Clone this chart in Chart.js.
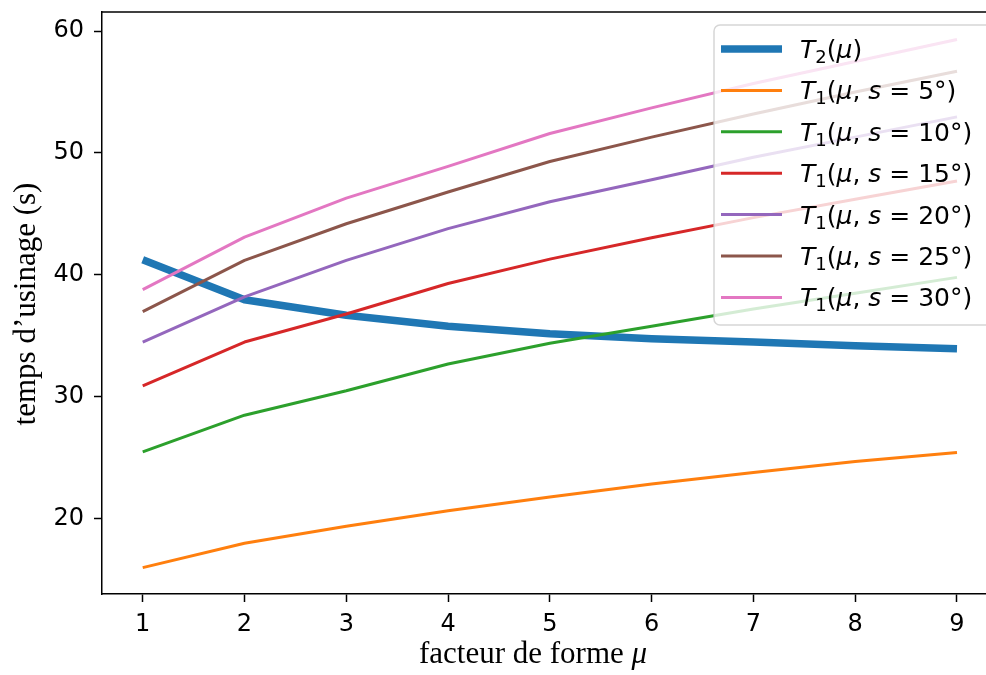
<!DOCTYPE html>
<html>
<head>
<meta charset="utf-8">
<script src="https://cdn.jsdelivr.net/npm/chart.js@4.4.1/dist/chart.umd.min.js"></script>
<style>
  html, body { margin: 0; padding: 0; background: #fff; }
  canvas { display: block; }
</style>
</head>
<body>
<canvas id="chart" width="986" height="675"></canvas>
<script>
// facteur de forme
const mu = [1, 2, 3, 4, 5, 6, 7, 8, 9];

// T2(mu)
const t2 = [41.25, 37.96, 36.7, 35.8, 35.17, 34.76, 34.5, 34.2, 33.94];

// T1(mu, s) for each angle s
const angles = [5, 10, 15, 20, 25, 30];
const t1s5 = [16.0, 18.0, 19.4, 20.66, 21.8, 22.85, 23.8, 24.7, 25.45];
const t1s10 = [25.5, 28.5, 30.5, 32.7, 34.4, 35.8, 37.2, 38.5, 39.8];
const t1s15 = [30.9, 34.5, 36.8, 39.3, 41.3, 43.05, 44.7, 46.2, 47.7];
const t1s20 = [34.5, 38.2, 41.2, 43.8, 46.0, 47.8, 49.65, 51.3, 52.96];
const t1s25 = [37.0, 41.2, 44.2, 46.8, 49.3, 51.3, 53.2, 55.0, 56.7];
const t1s30 = [38.8, 43.1, 46.3, 48.9, 51.6, 53.7, 55.7, 57.5, 59.3];

const xTicks = [1, 2, 3, 4, 5, 6, 7, 8, 9];
const yTicks = [20, 30, 40, 50, 60];

const xTitle = "facteur de forme ";
const xTitleSymbol = "\u03bc";
const yTitle = "temps d\u2019usinage (s)";

const colors = ["#1f77b4", "#ff7f0e", "#2ca02c", "#d62728", "#9467bd", "#8c564b", "#e377c2"];
const t1Series = [t1s5, t1s10, t1s15, t1s20, t1s25, t1s30];

function toPoints(values) {
  return values.map((v, i) => ({ x: mu[i], y: v }));
}

const datasets = [{
  data: toPoints(t2),
  borderColor: colors[0],
  borderWidth: 7.5,
  order: 10
}];
t1Series.forEach((vals, i) => {
  datasets.push({
    data: toPoints(vals),
    borderColor: colors[i + 1],
    borderWidth: 3,
    order: 6 - i
  });
});

// legend entries, written as small pieces of "math" text
const legendItems = [{
  color: colors[0], width: 7.5,
  parts: [{ t: "T", it: true }, { t: "2", sub: true }, { t: "(" }, { t: "\u03bc", it: true }, { t: ")" }]
}];
angles.forEach((s, i) => {
  legendItems.push({
    color: colors[i + 1], width: 3,
    parts: [{ t: "T", it: true }, { t: "1", sub: true }, { t: "(" }, { t: "\u03bc", it: true },
            { t: ", " }, { t: "s", it: true }, { t: " = " }, { t: s + "\u00b0)" }]
  });
});

function drawMath(ctx, x, y, parts) {
  parts.forEach(p => {
    ctx.font = (p.it ? "italic " : "") + (p.sub ? "18px" : "25px") + " 'DejaVu Sans'";
    ctx.fillText(p.t, x, y + (p.sub ? 5 : 0));
    x += ctx.measureText(p.t).width;
  });
}

const decor = {
  id: "decor",
  afterDraw(chart) {
    const ctx = chart.ctx;
    const a = chart.chartArea;
    ctx.save();

    // top spine
    ctx.strokeStyle = "#000";
    ctx.lineWidth = 1.5;
    ctx.beginPath();
    ctx.moveTo(a.left - 0.75, a.top);
    ctx.lineTo(a.right, a.top);
    ctx.stroke();

    // legend box
    const bx = 714, by = 25, bw = 300, bh = 300, r = 6;
    ctx.beginPath();
    ctx.moveTo(bx + r, by);
    ctx.lineTo(bx + bw - r, by);
    ctx.arcTo(bx + bw, by, bx + bw, by + r, r);
    ctx.lineTo(bx + bw, by + bh - r);
    ctx.arcTo(bx + bw, by + bh, bx + bw - r, by + bh, r);
    ctx.lineTo(bx + r, by + bh);
    ctx.arcTo(bx, by + bh, bx, by + bh - r, r);
    ctx.lineTo(bx, by + r);
    ctx.arcTo(bx, by, bx + r, by, r);
    ctx.closePath();
    ctx.fillStyle = "rgba(255,255,255,0.8)";
    ctx.fill();
    ctx.strokeStyle = "rgba(204,204,204,0.8)";
    ctx.lineWidth = 1.5;
    ctx.stroke();

    ctx.textBaseline = "alphabetic";
    ctx.textAlign = "left";
    legendItems.forEach((item, i) => {
      const y = 49 + i * 41.4;
      ctx.strokeStyle = item.color;
      ctx.lineWidth = item.width;
      ctx.beginPath();
      ctx.moveTo(721, y);
      ctx.lineTo(782, y);
      ctx.stroke();
      ctx.fillStyle = "#000";
      drawMath(ctx, 800, y + 9, item.parts);
    });

    // x axis title
    ctx.fillStyle = "#000";
    ctx.font = "31px 'Liberation Serif'";
    const w1 = ctx.measureText(xTitle).width;
    ctx.font = "italic 31px 'Liberation Serif'";
    const w2 = ctx.measureText(xTitleSymbol).width;
    let x0 = 533 - (w1 + w2) / 2;
    ctx.font = "31px 'Liberation Serif'";
    ctx.fillText(xTitle, x0, 663);
    ctx.font = "italic 31px 'Liberation Serif'";
    ctx.fillText(xTitleSymbol, x0 + w1, 663);

    // y axis title
    ctx.translate(35, 304);
    ctx.rotate(-Math.PI / 2);
    ctx.font = "31px 'Liberation Serif'";
    ctx.textAlign = "center";
    ctx.fillText(yTitle, 0, 0);

    ctx.restore();
  }
};

Chart.defaults.color = "#000";
Chart.defaults.font.family = "'DejaVu Sans'";

new Chart(document.getElementById("chart"), {
  type: "line",
  data: { datasets },
  options: {
    responsive: false,
    animation: false,
    layout: { padding: { top: 12, right: 0, left: 0, bottom: 0 } },
    elements: {
      point: { radius: 0 },
      line: { tension: 0, borderJoinStyle: "round", borderCapStyle: "butt" }
    },
    plugins: { legend: { display: false }, tooltip: { enabled: false } },
    scales: {
      x: {
        type: "linear",
        min: 0.6,
        max: 9.285,
        afterBuildTicks: s => { s.ticks = xTicks.map(v => ({ value: v })); },
        afterFit: s => { s.height = 81; s.paddingLeft = 0; s.paddingRight = 0; },
        ticks: { font: { size: 24 }, padding: 8, maxRotation: 0 },
        grid: { drawOnChartArea: false, drawTicks: true, tickLength: 8, tickWidth: 1.5, tickColor: "#000" },
        border: { display: true, color: "#000", width: 1.5 }
      },
      y: {
        type: "linear",
        min: 13.84,
        max: 61.56,
        afterBuildTicks: s => { s.ticks = yTicks.map(v => ({ value: v })); },
        afterFit: s => { s.width = 102; s.paddingTop = 0; s.paddingBottom = 0; },
        ticks: { font: { size: 24 }, padding: 10 },
        grid: { drawOnChartArea: false, drawTicks: true, tickLength: 8, tickWidth: 1.5, tickColor: "#000" },
        border: { display: true, color: "#000", width: 1.5 }
      }
    }
  },
  plugins: [decor]
});
</script>
</body>
</html>
